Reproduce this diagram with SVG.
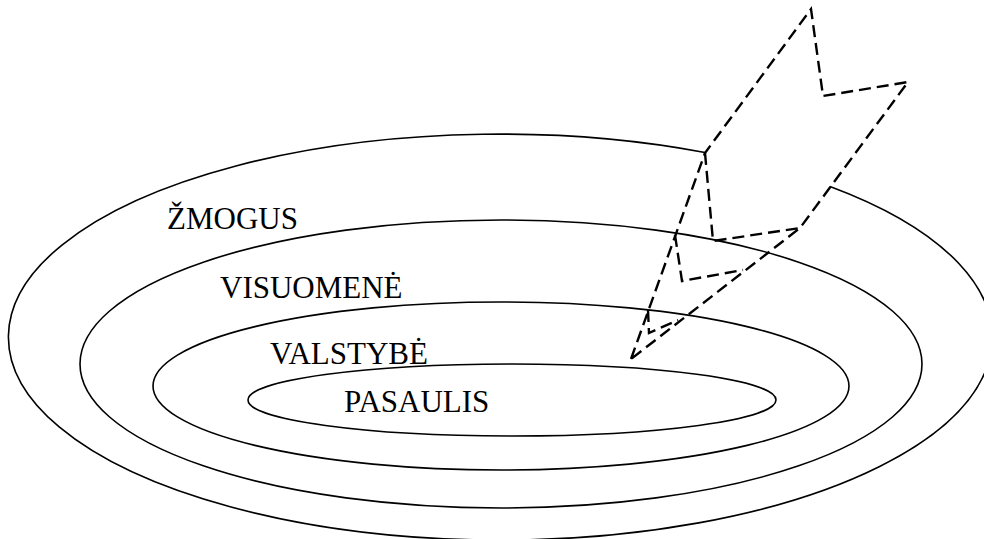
<svg xmlns="http://www.w3.org/2000/svg" width="984" height="539" viewBox="0 0 984 539">
<style>
.ring{fill:none;stroke:#000;stroke-width:1.6}
.dash{fill:none;stroke:#000;stroke-width:2.4;stroke-dasharray:12,6;stroke-linejoin:miter}
.lbl{font-family:'Liberation Serif','Times New Roman',serif;font-size:31px;fill:#000}
</style>
<rect width="984" height="539" fill="#fff"/>
<g id="zmogus">
<path class="ring" d="M705,152.5 A492,203 0 1 0 830,186.4"/>
<text class="lbl" x="167" y="229">ŽMOGUS</text>
</g>
<g id="visuomene">
<ellipse class="ring" cx="501" cy="364" rx="421" ry="144"/>
<text class="lbl" x="220" y="298">VISUOMENĖ</text>
</g>
<g id="valstybe">
<ellipse class="ring" cx="501" cy="386" rx="348" ry="84"/>
<text class="lbl" x="270" y="364">VALSTYBĖ</text>
</g>
<g id="pasaulis">
<ellipse class="ring" cx="512" cy="400" rx="264" ry="36"/>
<text class="lbl" x="344" y="412">PASAULIS</text>
</g>
<g id="connectors">
<path class="dash" d="M631,359 L705,153 L811,9 L823,96 L908,82 L800,228 L631,359"/>
<path class="dash" d="M705,153 L713,241 L800,228"/>
<path class="dash" d="M675,235 L682,281 L743,270"/>
<path class="dash" d="M648,310 L649,333 L678,320"/>
</g>
</svg>
